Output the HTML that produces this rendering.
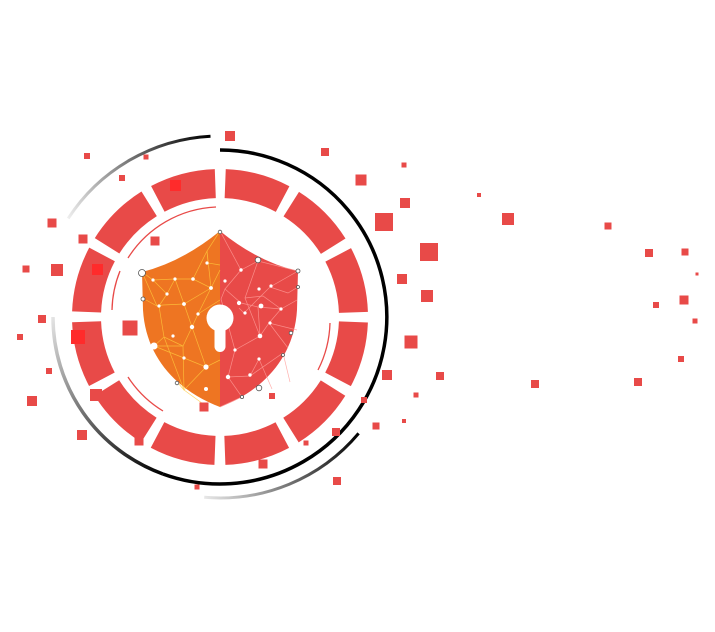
<!DOCTYPE html>
<html><head><meta charset="utf-8"><style>html,body{margin:0;padding:0;background:#fff;width:715px;height:632px;overflow:hidden}</style></head>
<body>
<svg width="715" height="632" viewBox="0 0 715 632" xmlns="http://www.w3.org/2000/svg">
<defs>
<linearGradient id="g1" gradientUnits="userSpaceOnUse" x1="163" y1="474" x2="53" y2="317"><stop offset="0" stop-color="#000"/><stop offset="1" stop-color="#e4e4e4"/></linearGradient>
<linearGradient id="g2" gradientUnits="userSpaceOnUse" x1="358" y1="433" x2="204" y2="497"><stop offset="0" stop-color="#000"/><stop offset="1" stop-color="#e8e8e8"/></linearGradient>
<linearGradient id="g3" gradientUnits="userSpaceOnUse" x1="210" y1="136" x2="68" y2="218"><stop offset="0" stop-color="#000"/><stop offset="1" stop-color="#eee"/></linearGradient>
</defs>
<circle cx="220" cy="317" r="133.5" fill="none" stroke="#E84A48" stroke-width="29" stroke-dasharray="59.9 10" stroke-dashoffset="-5"/>
<path d="M220,150 A167,167 0 1 1 162.9,474" fill="none" stroke="#000" stroke-width="3.5"/>
<path d="M162.9,474 A167,167 0 0 1 53,317" fill="none" stroke="url(#g1)" stroke-width="3.5"/>
<path d="M358.6,433.4 A181,181 0 0 1 204.2,497.3" fill="none" stroke="url(#g2)" stroke-width="3"/>
<path d="M210.5,136.2 A181,181 0 0 0 68.2,218.4" fill="none" stroke="url(#g3)" stroke-width="3"/>
<g fill="none" stroke="#E84A48" stroke-width="1.3">
<path d="M216,207 A110,110 0 0 0 128,258"/>
<path d="M112,310 A110,110 0 0 1 120,271"/>
<path d="M330,323 A110,110 0 0 1 318,370"/>
<path d="M128,377 A110,110 0 0 0 163,411"/>
</g>
<path d="M220,231 Q182,262 142,272 L143,310 C146,360 180,392 220,407 Z" fill="#EE7522"/>
<path d="M220,231 Q258,262 298,271 L297,310 C294,360 260,392 220,407 Z" fill="#E84A48"/>
<g stroke="#FFC93C" stroke-width="0.7" opacity="0.8" fill="none">
<path d="M142,272 L153,280 L175,279 L193,279 L207,251 L220,231"/>
<path d="M153,280 L167,294 L159,306 L164,337 L183,346 L184,390 L206,406"/>
<path d="M175,279 L184,304 L192,327 L183,346 L154,346 L164,337"/>
<path d="M207,251 L211,288 L184,304 L163,305 L157,306"/>
<path d="M211,288 L198,314 L192,327 L206,367 L184,390 L178,383"/>
<path d="M193,279 L211,288 L220,270 M207,251 L208,263 L220,265"/>
<path d="M142,272 L157,306 L146,300 M154,346 L184,358 L206,367 L220,360"/>
<path d="M167,294 L175,279 M198,314 L220,300 M164,337 L184,390"/>
</g>
<g stroke="#FF9E9A" stroke-width="0.7" opacity="0.8" fill="none">
<path d="M220,231 L241,270 L258,261 L298,271 L270,287 L244,313 L239,308"/>
<path d="M241,270 L225,289 L241,303 L258,307 L281,309 L297,300"/>
<path d="M258,261 L245,298 L260,336 L269,323 L297,330"/>
<path d="M225,289 L221,299 L235,350 L228,377 L250,376 L259,359 L272,389"/>
<path d="M258,307 L260,336 L235,350 M281,309 L269,323 L288,348"/>
<path d="M250,376 L283,353 L290,382 M228,377 L242,397 L220,407"/>
<path d="M270,287 L288,293 L298,287 M245,298 L263,296 L281,309"/>
</g>
<g fill="#fff">
<circle cx="153" cy="280" r="1.6"/><circle cx="175" cy="279" r="1.6"/><circle cx="193" cy="279" r="1.8"/><circle cx="207" cy="263" r="1.6"/><circle cx="211" cy="288" r="1.9"/><circle cx="167" cy="294" r="1.6"/><circle cx="184" cy="304" r="1.9"/><circle cx="159" cy="306" r="1.6"/><circle cx="198" cy="314" r="1.6"/><circle cx="192" cy="327" r="2.2"/><circle cx="173" cy="336" r="1.6"/><circle cx="184" cy="358" r="1.6"/><circle cx="206" cy="367" r="2.6"/><circle cx="206" cy="389" r="2"/><circle cx="154" cy="346" r="3.5"/>
<circle cx="241" cy="270" r="1.7"/><circle cx="225" cy="281" r="1.6"/><circle cx="259" cy="289" r="1.6"/><circle cx="271" cy="286" r="1.6"/><circle cx="239" cy="303" r="2.1"/><circle cx="261" cy="306" r="2.4"/><circle cx="245" cy="313" r="1.6"/><circle cx="281" cy="309" r="1.6"/><circle cx="270" cy="323" r="1.6"/><circle cx="260" cy="336" r="2.3"/><circle cx="235" cy="350" r="1.6"/><circle cx="259" cy="359" r="1.6"/><circle cx="228" cy="377" r="2.2"/><circle cx="250" cy="375" r="1.7"/>
</g>
<g fill="#fff" stroke="#555" stroke-width="0.8">
<circle cx="142" cy="273" r="3.5"/><circle cx="258" cy="260" r="2.8"/><circle cx="298" cy="271" r="2"/><circle cx="143" cy="299" r="2"/><circle cx="298" cy="287" r="1.5"/><circle cx="291" cy="333" r="1.8"/><circle cx="283" cy="355" r="1.5"/><circle cx="259" cy="388" r="2.8"/><circle cx="177" cy="383" r="1.8"/><circle cx="242" cy="397" r="1.6"/><circle cx="220" cy="232" r="1.8"/>
</g>
<circle cx="220" cy="318" r="13.5" fill="#fff"/>
<rect x="214.5" y="318" width="11" height="34" rx="5.5" fill="#fff"/>
<g fill="#E84A48">
<rect x="225" y="131" width="10" height="10"/><rect x="84" y="153" width="6" height="6"/><rect x="143.5" y="154.5" width="5" height="5"/><rect x="321" y="148" width="8" height="8"/><rect x="119" y="175" width="6" height="6"/><rect x="355.5" y="174.5" width="11" height="11"/><rect x="401.5" y="162.5" width="5" height="5"/><rect x="375" y="213" width="18" height="18"/><rect x="47.5" y="218.5" width="9" height="9"/><rect x="400" y="198" width="10" height="10"/><rect x="78.5" y="234.5" width="9" height="9"/><rect x="150.5" y="236.5" width="9" height="9"/><rect x="22.5" y="265.5" width="7" height="7"/><rect x="51" y="264" width="12" height="12"/><rect x="420" y="243" width="18" height="18"/><rect x="397" y="274" width="10" height="10"/><rect x="421" y="290" width="12" height="12"/><rect x="38" y="315" width="8" height="8"/><rect x="122.5" y="320.5" width="15" height="15"/><rect x="17" y="334" width="6" height="6"/><rect x="71" y="330" width="14" height="14"/><rect x="404.5" y="335.5" width="13" height="13"/><rect x="46" y="368" width="6" height="6"/><rect x="382" y="370" width="10" height="10"/><rect x="436" y="372" width="8" height="8"/><rect x="27" y="396" width="10" height="10"/><rect x="90" y="389" width="12" height="12"/><rect x="199.5" y="402.5" width="9" height="9"/><rect x="269" y="393" width="6" height="6"/><rect x="361" y="397" width="6" height="6"/><rect x="413.5" y="392.5" width="5" height="5"/><rect x="372.5" y="422.5" width="7" height="7"/><rect x="77" y="430" width="10" height="10"/><rect x="402" y="419" width="4" height="4"/><rect x="332" y="428" width="8" height="8"/><rect x="134.5" y="436.5" width="9" height="9"/><rect x="303.5" y="440.5" width="5" height="5"/><rect x="258.5" y="459.5" width="9" height="9"/><rect x="333" y="477" width="8" height="8"/><rect x="194.5" y="484.5" width="5" height="5"/><rect x="477" y="193" width="4" height="4"/><rect x="502" y="213" width="12" height="12"/><rect x="604.5" y="222.5" width="7" height="7"/><rect x="645" y="249" width="8" height="8"/><rect x="681.5" y="248.5" width="7" height="7"/><rect x="695.5" y="272.5" width="3" height="3"/><rect x="653" y="302" width="6" height="6"/><rect x="679.5" y="295.5" width="9" height="9"/><rect x="692.5" y="318.5" width="5" height="5"/><rect x="678" y="356" width="6" height="6"/><rect x="634" y="378" width="8" height="8"/><rect x="531" y="380" width="8" height="8"/>
</g>
<g fill="#FF2B2B">
<rect x="170" y="180" width="11" height="11"/><rect x="92" y="264" width="11" height="11"/><rect x="71" y="330" width="14" height="14"/>
</g>
</svg>
</body></html>
